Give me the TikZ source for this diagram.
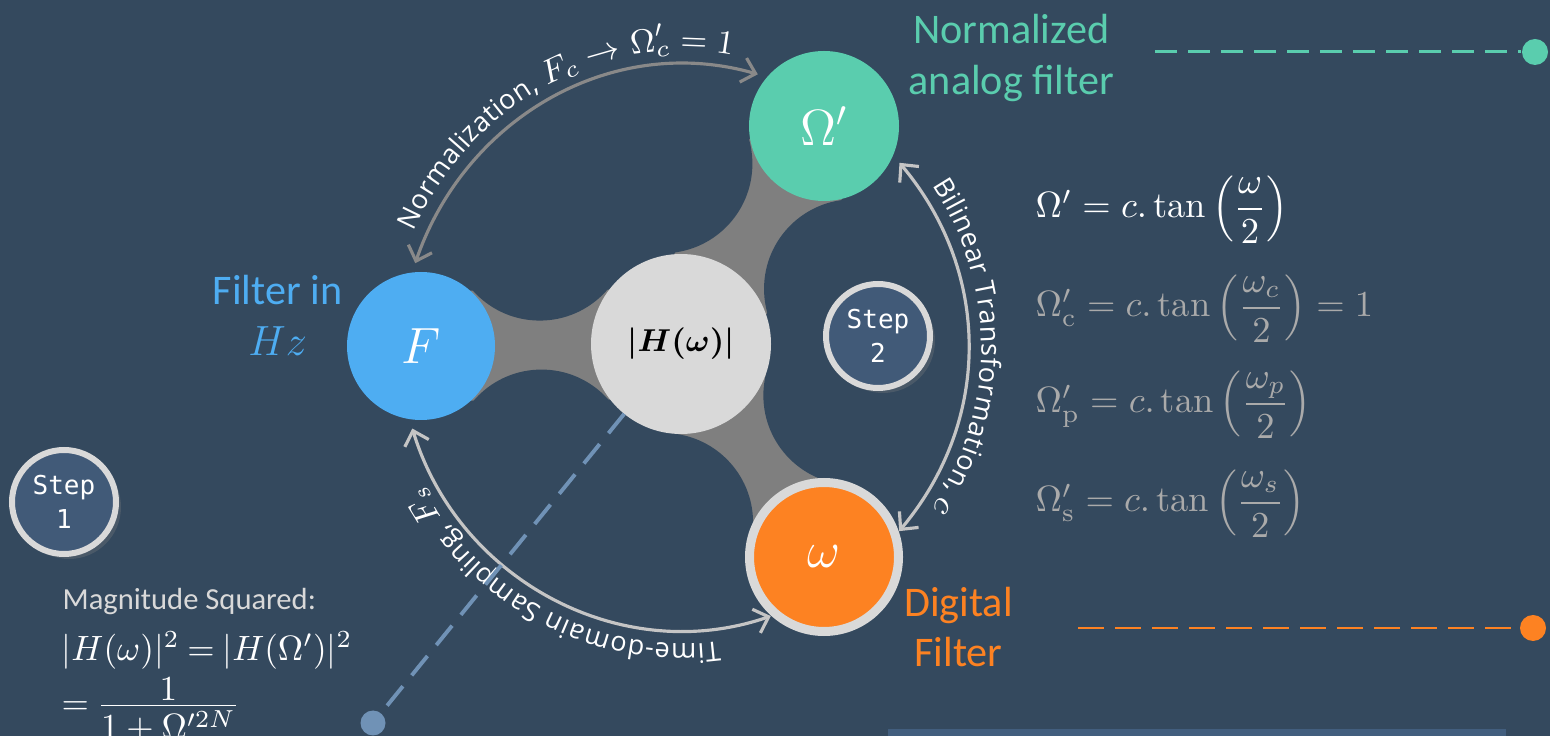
\RequirePackage{fix-cm}
\documentclass[tikz,border=0pt]{standalone}
\usepackage{amsmath}
\usepackage{amssymb}
\usepackage{fontspec}
\usepackage{tikz}
\usetikzlibrary{calc}
\usetikzlibrary{arrows.meta}
\usetikzlibrary{positioning}
\usetikzlibrary{shadows}
\usetikzlibrary{decorations.text}
\newfontfamily\calibri{Carlito}
\newfontfamily\segoe{Open Sans}
\newfontfamily\stepmono{DejaVu Sans Mono}
\newcommand\arcfont{\segoe\fontsize{7.7}{9}\selectfont}
\newcommand\arcmath{\fontsize{9.6}{11}\selectfont}
\definecolor{Slate}{RGB}{52,73,94}
\definecolor{FilterBlue}{RGB}{78,173,242}
\definecolor{AnalogTeal}{RGB}{90,205,174}
\definecolor{DigitalOrange}{RGB}{253,130,34}
\definecolor{BandGray}{RGB}{127,127,127}
\definecolor{HubGray}{RGB}{217,217,217}
\definecolor{StepBlue}{RGB}{65,90,120}
\definecolor{DashBlue}{RGB}{112,146,182}
\definecolor{ArcDark}{RGB}{137,137,137}
\definecolor{ArcLight}{RGB}{197,197,197}
\definecolor{EqGray}{RGB}{170,170,170}
\definecolor{StripBlue}{RGB}{66,94,126}
\pgfdeclarelayer{back}
\pgfsetlayers{back,main}

\begin{document}
\begin{tikzpicture}[
 disc/.style = {circle, minimum size=1.48cm, inner sep=0pt, outer sep=0.9mm, text=white,
                font=\fontsize{14.5}{17}\selectfont},
 hubdisc/.style = {circle, minimum size=1.8cm, inner sep=0pt, outer sep=0pt, fill=HubGray,
                font=\fontsize{9}{11}\selectfont},
 stepdisc/.style = {circle, draw=HubGray, line width=0.6mm, fill=StepBlue, minimum size=1.04cm,
                inner sep=0pt, align=center, text=white, font=\stepmono\fontsize{7.4}{9.7}\selectfont,
                drop shadow={shadow xshift=0.5mm, shadow yshift=-0.5mm, opacity=0.3}},
 sidelabel/.style = {inner sep=0pt, align=center, font=\calibri\fontsize{12}{14.5}\selectfont},
 eqn/.style = {inner sep=0pt, anchor=base west, font=\fontsize{10.4}{12}\selectfont},
 enddot/.style = {circle, minimum size=2.6mm, inner sep=0pt},
 leader/.style = {line width=0.85pt, dash pattern=on 2.2mm off 1.1mm},
 cyc/.style = {line width=0.9pt,
               {Straight Barb[length=1.3mm,width=2.5mm]}-{Straight Barb[length=1.3mm,width=2.5mm]}},
 arclabel/.style = {decorate, decoration={text along path, text align=center, raise=1.3mm,
                    text color=white, text={|\arcfont|#1}}},
                        ]
    \useasboundingbox (0,0) rectangle (15.5,7.36);

    % the four filter domains
    \node [hubdisc] (hub) at (6.81,3.92) {$\boldsymbol{|H(\omega)|}$};
    \node [disc, fill=FilterBlue] (fhz) at (4.21,3.90) {$F$};
    \node [disc, fill=AnalogTeal, minimum size=1.5cm] (anlg) at (8.24,6.10) {$\Omega'$};
    \node [disc, fill=DigitalOrange, draw=HubGray, line width=0.09cm, minimum size=1.49cm,
           outer sep=0.5mm] (digi) at (8.24,1.79) {$\omega$};

    \begin{pgfonlayer}{back}
    \fill [Slate] (0,0) rectangle (15.5,7.36);
    \foreach \arm in {fhz,anlg,digi}
      \fill [BandGray] ($(hub)!0.55cm!90:(\arm)$) -- ($(\arm)!0.55cm!-90:(hub)$)
            -- ($(\arm)!0.55cm!90:(hub)$) -- ($(hub)!0.55cm!-90:(\arm)$) -- cycle;
    \foreach \arm in {fhz,anlg,digi}{
      \fill [Slate] ($(hub)!0.54!(\arm)!1.14cm!90:(\arm)$) circle (0.895);
      \fill [Slate] ($(hub)!0.54!(\arm)!1.14cm!-90:(\arm)$) circle (0.895);
    }
    \end{pgfonlayer}

    \node [sidelabel, text=FilterBlue, left=-0.05cm of fhz, yshift=0.31cm] (fhzlabel) {Filter in\\$Hz$};
    \node [sidelabel, text=AnalogTeal, right=0cm of anlg, yshift=0.68cm] (anlglabel) {Normalized\\analog filter};
    \node [sidelabel, text=DigitalOrange, right=0cm of digi, yshift=-0.70cm] (digilabel) {Digital\\Filter};

    \node [stepdisc] (stepA) at (0.64,2.34) {Step\\1};
    \node [stepdisc] (stepB) at (8.78,4.00) {Step\\2};

    % transformations around the ring
    \draw [cyc, ArcDark] (fhz.94) to[out=71, in=164] (anlg.142);
    \draw [cyc, ArcLight] (anlg.-26) to[out=-50, in=50] (digi.19);
    \draw [cyc, ArcLight] (digi.228) to[out=199, in=-73] (fhz.264);
    \path [arclabel={Normalization, {\arcmath$F_c$} {\arcmath$\to$} {\arcmath$\Omega'_c$} {\arcmath$=$} {\arcmath$1$}}]
          (fhz.94) to[out=71, in=164] (anlg.142);
    \path [arclabel={Bilinear Transformation, {\arcmath$c$}}]
          (anlg.-26) to[out=-50, in=50] (digi.19);
    \path [arclabel={Time-domain Sampling, {\arcmath$F_s$}}]
          (digi.228) to[out=199, in=-73] (fhz.264);

    % leaders
    \node [enddot, fill=DashBlue, minimum size=2.5mm] (bluedot) at (3.73,0.13) {};
    \draw [DashBlue, line width=1.1pt, dash pattern=on 2.5mm off 1.4mm] (hub) -- (bluedot);
    \node [enddot, fill=AnalogTeal] (tealdot) at (15.35,6.84) {};
    \coordinate (tealstart) at (11.55,6.84);
    \draw [leader, AnalogTeal] (tealstart) -- (tealdot);
    \node [enddot, fill=DigitalOrange] (orangedot) at (15.33,1.08) {};
    \coordinate (orangestart) at (10.78,1.08);
    \draw [leader, DigitalOrange, dash pattern=on 2.6mm off 1.1mm] (orangestart) -- (orangedot);

    % warping relations
    \node [eqn, text=white] (eqa) at (10.35,5.18) {$\Omega' = c.\tan\left(\dfrac{\omega}{2}\right)$};
    \node [eqn, text=EqGray] (eqb) at (10.35,4.19) {$\Omega'_{\mathrm{c}} = c.\tan\left(\dfrac{\omega_c}{2}\right) = 1$};
    \node [eqn, text=EqGray] (eqc) at (10.35,3.23) {$\Omega'_{\mathrm{p}} = c.\tan\left(\dfrac{\omega_p}{2}\right)$};
    \node [eqn, text=EqGray] (eqd) at (10.35,2.24) {$\Omega'_{\mathrm{s}} = c.\tan\left(\dfrac{\omega_s}{2}\right)$};

    \node [inner sep=0pt, anchor=base west, text=HubGray, font=\calibri\fontsize{8.7}{10}\selectfont]
          (magtitle) at (0.62,1.26) {Magnitude Squared:};
    \node [eqn, text=white, font=\fontsize{10}{12}\selectfont]
          (maga) at (0.61,0.76) {$\thickmuskip=4mu\relax |H(\omega)|^2 = |H(\Omega')|^2$};
    \node [eqn, text=white, font=\fontsize{10}{12}\selectfont]
          (magb) at (0.61,0.22) {$\thickmuskip=4mu\relax = \dfrac{\raisebox{-0.7ex}{$1$}}{1+\Omega'^{2N}}$};

    \fill [StripBlue] (8.88,0) rectangle (15.06,0.07);
\end{tikzpicture}
\end{document}
